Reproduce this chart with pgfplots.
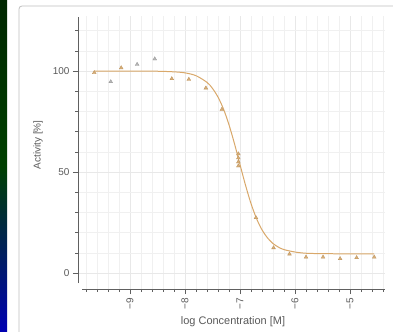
\documentclass[border=0pt]{standalone}
\usepackage{pgfplots}
\pgfplotsset{compat=1.18}
\usepackage{fontspec}
\setmainfont{Liberation Sans}
\definecolor{curve}{HTML}{D9A86A}
\definecolor{mk}{HTML}{D6AE78}
\definecolor{mkedge}{HTML}{BE925A}
\definecolor{gmk}{HTML}{B8B8B8}
\definecolor{axc}{HTML}{606060}
\definecolor{txt}{HTML}{5A5A5A}
\begin{document}
\begin{tikzpicture}
\fill[white] (0,0) rectangle (393bp,332bp);
\shade[top color=black!85!green, bottom color=blue!70!black, middle color=green!25!black] (0,0) rectangle (7bp,332bp);
\draw[black!25, line width=0.8pt, rounded corners=3pt] (19bp,-10bp) -- (19bp,326bp) -- (400bp,326bp);
\begin{axis}[
  at={(78bp,42.8bp)}, anchor=south west,
  scale only axis, width=307bp, height=272.7bp,
  xmin=-9.945, xmax=-4.364, ymin=-8, ymax=127,
  clip=false,
  /pgf/number format/assume math mode=true,
  axis line style={draw=none},
  tick pos=left, tick align=outside,
  xtick={-9,-8,-7,-6,-5},
  xticklabels={−9,−8,−7,−6,−5},
  minor xtick={-9.8,-9.6,-9.4,-9.2,-8.8,-8.6,-8.4,-8.2,-7.8,-7.6,-7.4,-7.2,-6.8,-6.6,-6.4,-6.2,-5.8,-5.6,-5.4,-5.2,-4.8,-4.6,-4.4},
  ytick={0,50,100},
  minor ytick={10,20,30,40,60,70,80,90,110,120},
  major tick length=5bp, minor tick length=2.5bp,
  every tick/.style={axc, line width=0.6pt},
  grid=both,
  major grid style={black!9, line width=0.4pt},
  minor grid style={black!6, line width=0.4pt},
  x tick label style={rotate=90, anchor=east, font=\fontsize{10}{11}\selectfont, text=txt},
  y tick label style={font=\fontsize{10}{11}\selectfont, text=txt},
  xlabel={log Concentration [M]},
  ylabel={Activity [\%]},
  xlabel style={at={(axis description cs:0.505,-0.12)}, anchor=center, font=\fontsize{11}{13}\selectfont, text=txt},
  ylabel style={at={(axis description cs:-0.13,0.529)}, anchor=center, font=\fontsize{10}{12}\selectfont, text=txt},
]
\draw[axc, line width=0.9pt] (axis cs:-9.945,-5) -- (axis cs:-9.945,126.7);
\draw[axc, line width=0.9pt] (axis cs:-9.87,-8) -- (axis cs:-4.364,-8);
\addplot[curve, line width=1pt, smooth] coordinates {
(-9.65,100) (-9,100) (-8.5,99.9) (-8.2,99.6) (-8,99.1) (-7.8,97.7) (-7.6,94.4) (-7.5,91.4) (-7.4,87.1) (-7.3,81.2) (-7.2,73.4) (-7.1,64.0) (-7.0,53.7) (-6.9,43.5) (-6.8,34.4) (-6.7,27.0) (-6.6,21.4) (-6.5,17.4) (-6.4,14.6) (-6.3,12.8) (-6.2,11.6) (-6.0,10.4) (-5.8,9.8) (-5.5,9.6) (-5.0,9.5) (-4.56,9.5)
};
\addplot[only marks, mark=triangle*, mark size=2.2pt, mark options={fill=mk, draw=mkedge, line width=0.3pt}] coordinates {
(-9.65,99.2) (-9.16,101.6) (-8.24,96.2) (-7.93,95.9) (-7.62,91.6) (-7.33,81) (-7.03,59) (-7.03,57) (-7.03,55) (-7.03,53) (-6.71,27.4) (-6.39,12.5) (-6.10,9.4) (-5.80,7.9) (-5.49,7.9) (-5.18,7.1) (-4.88,7.6) (-4.56,7.9)
};
\addplot[only marks, mark=triangle*, mark size=2.2pt, mark options={fill=gmk, draw=gmk!80!black, line width=0.3pt}] coordinates {
(-9.35,94.7) (-8.87,103.3) (-8.55,106)
};
\end{axis}
\pgfresetboundingbox
\useasboundingbox (0,0) rectangle (393bp,332bp);
\end{tikzpicture}
\end{document}
